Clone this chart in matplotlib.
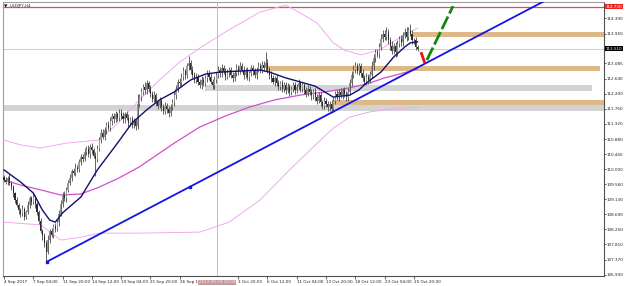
import matplotlib
matplotlib.use("Agg")
import matplotlib.pyplot as plt
from matplotlib import font_manager

# ---------------- data ----------------
first_open = 109.78
closes = [
    109.70, 109.62, 109.75, 109.60, 109.48, 109.30, 109.10, 108.95, 108.80, 108.70, 108.85, 108.62, 108.75, 108.95, 109.15, 109.05,
    109.20, 108.98, 108.75, 108.50, 108.20, 108.05, 107.85, 107.60, 107.95, 108.20, 108.10, 108.35, 108.25, 108.45, 108.70, 109.00,
    109.25, 109.15, 109.40, 109.60, 109.75, 109.95, 109.90, 110.05, 110.00, 110.20, 110.35, 110.30, 110.50, 110.60, 110.45, 110.65,
    110.55, 110.40, 110.30, 110.60, 110.85, 111.05, 110.95, 111.15, 111.30, 111.20, 111.40, 111.55, 111.45, 111.60, 111.50, 111.65,
    111.55, 111.45, 111.60, 111.50, 111.35, 111.45, 111.30, 111.40, 111.25, 111.90, 112.10, 112.25, 112.40, 112.30, 112.50, 112.35,
    112.20, 112.05, 112.15, 111.95, 111.85, 112.00, 111.80, 111.70, 111.85, 111.75, 111.65, 111.80, 111.95, 112.15, 112.35, 112.55,
    112.50, 112.70, 112.85, 112.75, 113.00, 113.10, 112.90, 112.75, 112.60, 112.70, 112.55, 112.45, 112.60, 112.50, 112.65, 112.80,
    112.70, 112.55, 112.45, 112.60, 112.75, 112.90, 112.80, 112.95, 112.85, 112.70, 112.80, 112.90, 112.75, 112.65, 112.80, 112.95,
    112.85, 113.00, 112.90, 112.75, 112.85, 112.70, 112.80, 112.95, 112.85, 112.75, 112.90, 113.00, 112.90, 113.05, 112.95, 113.10,
    112.90, 112.75, 112.65, 112.55, 112.65, 112.50, 112.40, 112.50, 112.35, 112.45, 112.30, 112.40, 112.25, 112.35, 112.45, 112.30,
    112.40, 112.50, 112.35, 112.45, 112.30, 112.20, 112.35, 112.25, 112.15, 112.25, 112.10, 112.00, 112.15, 111.95, 111.85, 112.00,
    111.90, 111.80, 111.90, 111.75, 112.00, 112.20, 112.10, 112.25, 112.15, 112.30, 112.20, 112.10, 112.25, 112.50, 112.75, 112.90,
    113.00, 112.85, 113.00, 112.80, 112.65, 112.55, 112.70, 112.60, 112.75, 113.00, 113.25, 113.40, 113.35, 113.55, 113.80, 113.95,
    113.85, 114.00, 113.75, 113.60, 113.45, 113.60, 113.40, 113.65, 113.80, 113.70, 113.90, 114.00, 113.85, 114.05, 113.95, 113.75,
    113.75, 113.55, 113.51,
]
# wick lengths in hundredths of a yen
up_wick = [
    6, 8, 5, 10, 6, 7, 5, 9, 6, 8, 10, 5, 7, 12, 8, 6,
    10, 6, 8, 5, 7, 6, 9, 8, 15, 7, 10, 6, 8, 9, 12, 10,
    8, 12, 7, 9, 10, 6, 8, 12, 7, 10, 9, 8, 11, 7, 10, 8,
    12, 7, 9, 10, 8, 11, 12, 9, 7, 10, 12, 8, 9, 11, 8, 10,
    9, 12, 8, 10, 11, 7, 9, 8, 6, 30, 10, 12, 9, 14, 10, 8,
    10, 9, 12, 8, 7, 10, 8, 9, 11, 7, 8, 10, 9, 12, 10, 8,
    11, 9, 12, 8, 10, 20, 9, 11, 8, 10, 7, 9, 12, 8, 10, 9,
    8, 10, 9, 12, 7, 10, 8, 11, 9, 10, 12, 8, 9, 7, 10, 12,
    9, 11, 8, 10, 9, 12, 7, 10, 8, 11, 9, 12, 8, 10, 9, 30,
    10, 8, 12, 9, 7, 10, 11, 8, 9, 10, 8, 12, 9, 7, 10, 8,
    9, 12, 8, 10, 7, 9, 11, 8, 10, 9, 12, 8, 10, 9, 7, 11,
    8, 10, 9, 12, 11, 8, 10, 9, 12, 8, 10, 9, 11, 12, 10, 13,
    12, 9, 10, 8, 11, 9, 10, 8, 12, 15, 11, 10, 9, 12, 14, 10,
    11, 13, 9, 10, 12, 8, 11, 10, 9, 12, 10, 11, 13, 9, 19, 10,
    8, 9, 7,
]
dn_wick = [
    7, 5, 9, 6, 8, 10, 7, 6, 9, 8, 5, 10, 7, 6, 8, 9,
    6, 10, 8, 9, 7, 10, 12, 29, 8, 9, 7, 10, 8, 6, 9, 7,
    9, 8, 10, 7, 6, 9, 8, 10, 7, 9, 8, 10, 7, 9, 8, 12,
    10, 8, 50, 9, 7, 10, 8, 9, 11, 7, 8, 10, 9, 8, 10, 9,
    8, 10, 9, 7, 12, 8, 10, 9, 10, 8, 9, 11, 8, 10, 12, 9,
    10, 8, 9, 12, 10, 8, 11, 9, 8, 10, 12, 9, 8, 10, 9, 11,
    8, 10, 9, 12, 8, 10, 12, 9, 10, 8, 11, 9, 10, 8, 9, 10,
    9, 8, 11, 10, 9, 8, 10, 12, 9, 10, 8, 11, 9, 10, 8, 9,
    10, 9, 8, 11, 10, 9, 12, 8, 10, 9, 11, 8, 10, 9, 8, 10,
    9, 11, 10, 8, 12, 9, 10, 8, 11, 9, 10, 8, 12, 9, 10, 11,
    8, 10, 9, 11, 10, 9, 8, 10, 12, 9, 10, 11, 8, 10, 9, 10,
    9, 11, 10, 10, 8, 10, 9, 11, 8, 10, 9, 12, 10, 8, 9, 10,
    11, 9, 10, 12, 9, 8, 10, 11, 9, 8, 10, 12, 9, 10, 8, 9,
    10, 9, 11, 12, 10, 9, 12, 10, 9, 11, 10, 9, 12, 10, 8, 9,
    10, 9, 8,
]

# moving average (navy)
ma_fast_idx = [0, 9, 16, 21, 25, 28, 32, 42, 51, 62, 70, 78, 85, 93, 102, 110, 118, 129, 140,
               145, 154, 162, 170, 180, 184, 189, 194, 198, 206, 213, 219, 222, 226]
ma_fast_val = [109.98, 109.63, 109.31, 108.81, 108.52, 108.46, 108.73, 109.19, 109.98, 110.76, 111.35,
               111.73, 112.02, 112.25, 112.60, 112.77, 112.83, 112.86, 112.89, 112.83, 112.66, 112.54,
               112.42, 112.10, 112.13, 112.16, 112.31, 112.51, 112.83, 113.27, 113.56, 113.68, 113.71]
# slow moving average (magenta)
ma_slow_idx = [0, 9, 20, 31, 42, 52, 63, 74, 85, 93, 107, 121, 134, 148, 162, 175, 186, 198, 208, 216, 226]
ma_slow_val = [109.69, 109.54, 109.40, 109.25, 109.28, 109.48, 109.75, 110.07, 110.47, 110.76, 111.23,
               111.55, 111.81, 112.02, 112.16, 112.25, 112.34, 112.48, 112.66, 112.77, 112.92]
# envelope bands (light pink)
band_up_idx = [0, 9, 20, 34, 52, 63, 74, 85, 96, 107, 123, 140, 154, 162, 171, 180, 186, 195, 205, 216, 226]
band_up_val = [110.85, 110.71, 110.62, 110.76, 110.85, 111.38, 112.02, 112.60, 113.12, 113.53, 114.06,
               114.58, 114.78, 114.55, 114.26, 113.68, 113.47, 113.33, 113.47, 113.82, 114.11]
band_lo_idx = [0, 20, 31, 42, 52, 74, 107, 123, 140, 156, 173, 180, 189, 200, 211, 226]
band_lo_val = [108.46, 108.38, 107.94, 108.02, 108.14, 108.14, 108.17, 108.46, 109.11, 109.98, 110.85,
               111.20, 111.52, 111.67, 111.75, 111.81]

# zones: (start bar, end bar, low, high, kind)
zone_start = [223.5, 144.3, 109.8, 179.8, -1.0]
zone_end = [330.0, 325.7, 321.3, 330.0, 330.0]
zone_low = [113.85, 112.86, 112.28, 111.87, 111.70]
zone_high = [114.00, 113.01, 112.45, 112.03, 111.87]
zone_kind = ["tan", "tan", "gray", "tan", "gray"]

# trend line anchors (bar, price)
trend_idx = [23.5, 101.6]
trend_val = [107.31, 109.49]
# projection lines
red_idx = [227.9, 230.0]
red_val = [113.41, 113.09]
green_idx = [231.1, 245.4]
green_val = [113.18, 114.75]

alert_price = 114.73
bid_price = 113.51
vline_idx = 116.4
vline_label = "2017.09.29 20:00"

x_label_idx = [0, 16, 32, 48, 64, 80, 96, 128, 144, 160, 176, 192, 208, 224]
x_labels = ["4 Sep 2017", "7 Sep 04:00", "11 Sep 20:00", "14 Sep 12:00", "19 Sep 04:00",
            "21 Sep 20:00", "26 Sep 12:00", "3 Oct 20:00", "6 Oct 12:00", "11 Oct 04:00",
            "13 Oct 20:00", "18 Oct 12:00", "23 Oct 04:00", "25 Oct 20:00"]
y_ticks = [114.390, 113.950, 113.085, 112.640, 112.200, 111.760, 111.320, 110.880, 110.440,
           110.000, 109.560, 109.130, 108.690, 108.250, 107.810, 107.370, 106.930]

# ---------------- font ----------------
_names = {f.name for f in font_manager.fontManager.ttflist}
if "Liberation Sans Narrow" in _names:
    FONT, FS = "Liberation Sans Narrow", 4.0
else:
    FONT, FS = "DejaVu Sans", 3.0
plt.rcParams["font.family"] = [FONT, "DejaVu Sans"]

# ---------------- figure ----------------
W, H = 625, 286
fig = plt.figure(figsize=(W / 100, H / 100), dpi=100)
ax = fig.add_axes([3 / W, 10 / H, 601 / W, 274 / H])
ax.set_xlim(-0.55, 327.9)
ax.set_ylim(106.892, 114.87)

zone_colors = {"tan": "#deb887", "gray": "#d3d3d3"}
for s, e, lo, hi, k in zip(zone_start, zone_end, zone_low, zone_high, zone_kind):
    ax.fill_between([s, e], lo, hi, color=zone_colors[k], lw=0, zorder=1)

ax.axhline(alert_price, color="#e8494b", lw=0.9, zorder=2)
ax.axhline(bid_price, color="#c8c8c8", lw=0.6, zorder=2)
ax.axvline(vline_idx, color="#d6b4b4", lw=0.7, zorder=2)

ax.plot(band_up_idx, band_up_val, color="#f0a8f0", lw=0.7, zorder=3)
ax.plot(band_lo_idx, band_lo_val, color="#f0a8f0", lw=0.7, zorder=3)
ax.plot(ma_slow_idx, ma_slow_val, color="#d24fd2", lw=0.9, zorder=3)

# candles
opens = [first_open] + closes[:-1]
for i, (o, c, u, d) in enumerate(zip(opens, closes, up_wick, dn_wick)):
    top = max(o, c)
    bot = min(o, c)
    hi = top + u / 100.0
    lo = bot - d / 100.0
    ax.vlines(i, lo, hi, color="#4a4a4a", lw=0.6, zorder=4)
    col = "#9a9a9a" if c >= o else "#2a2a2a"
    ax.bar(i, max(top - bot, 0.012), bottom=bot, width=0.62, color=col, lw=0, zorder=5)

ax.plot(ma_fast_idx, ma_fast_val, color="#10106e", lw=1.0, zorder=6)

# trend line extended to the right
slope = (trend_val[1] - trend_val[0]) / (trend_idx[1] - trend_idx[0])
tx = [trend_idx[0], 330.0]
ty = [trend_val[0], trend_val[0] + slope * (330.0 - trend_idx[0])]
ax.plot(tx, ty, color="#1414e6", lw=1.3, zorder=7)
ax.plot(trend_idx, trend_val, ls="none", marker="s", ms=2, color="#1414e6", zorder=7)

ax.plot(red_idx, red_val, color="#ee1111", lw=2.0, solid_capstyle="butt", zorder=8)
ax.plot(green_idx, green_val, color="#118811", lw=2.0, ls=(0, (5, 1.2)), zorder=8)

# axes styling
for sp in ["left", "top"]:
    ax.spines[sp].set_color("#a0a0a0")
    ax.spines[sp].set_linewidth(0.8)
for sp in ["right", "bottom"]:
    ax.spines[sp].set_color("#505050")
    ax.spines[sp].set_linewidth(0.8)

ax.yaxis.tick_right()
ax.set_yticks(y_ticks)
ax.set_yticklabels(["%.3f" % v for v in y_ticks])
ax.tick_params(axis="y", direction="out", length=1.5, width=0.5, pad=0.6,
               labelsize=FS, colors="#202020")
ax.set_xticks(x_label_idx)
ax.set_xticklabels(x_labels, ha="left")
ax.tick_params(axis="x", direction="out", length=2, width=0.5, pad=1.2,
               labelsize=FS, colors="#202020")

# price boxes on right axis
ytr = ax.get_yaxis_transform()
ax.text(1.003, alert_price, "%.3f" % alert_price, transform=ytr, ha="left", va="center",
        fontsize=FS, color="white", zorder=10, clip_on=False,
        bbox=dict(boxstyle="square,pad=0.15", fc="#ee2222", ec="none"))
ax.text(1.003, bid_price, "%.3f" % bid_price, transform=ytr, ha="left", va="center",
        fontsize=FS, color="white", zorder=10, clip_on=False,
        bbox=dict(boxstyle="square,pad=0.15", fc="black", ec="none"))

xtr = ax.get_xaxis_transform()
ax.text(vline_idx, -0.016, vline_label, transform=xtr, ha="center", va="top",
        fontsize=FS, color="#f6eaea", zorder=10, clip_on=False,
        bbox=dict(boxstyle="square,pad=0.2", fc="#c89a9a", ec="none"))

fig.text(4 / W, 1 - 6 / H, "\u25bc", fontsize=3.2, color="black", va="center", ha="left",
         family="DejaVu Sans")
fig.text(10 / W, 1 - 6 / H, "USDJPY,H4", fontsize=FS, color="#303030", va="center", ha="left")

fig.savefig("out.png", dpi=100, facecolor="white")
